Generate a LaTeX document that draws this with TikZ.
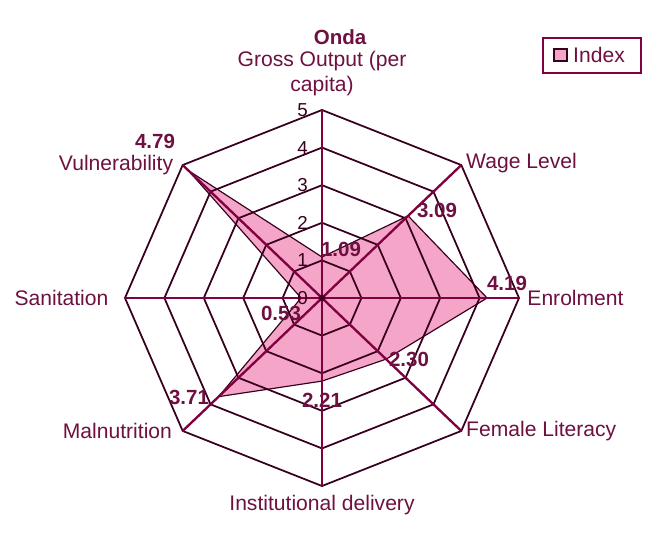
\documentclass[tikz,border=0pt]{standalone}
\usepackage{fontspec}
\setmainfont{Liberation Sans}
\usetikzlibrary{positioning}
\definecolor{plum}{RGB}{110,16,64}
\definecolor{axisred}{RGB}{128,0,64}
\definecolor{ringdark}{RGB}{55,0,30}
\definecolor{indexpink}{RGB}{245,166,200}
\tikzset{
  ring/.style={draw=ringdark, line width=1.5pt, line join=miter},
  spoke/.style={draw=axisred, line width=2pt},
  axislabel/.style={text=plum, font=\fontsize{18}{21}\selectfont, inner sep=0pt},
  valuelabel/.style={text=plum, font=\bfseries\fontsize{17.5}{21}\selectfont, inner sep=0pt},
  ticklabel/.style={text=ringdark, font=\fontsize{16}{19}\selectfont, inner sep=0pt},
}
\begin{document}
\begin{tikzpicture}[x=0.03cm, y=-0.03cm]
\useasboundingbox (0,0) rectangle (659,537);

% Title
\node[valuelabel] (title) at (340,37) {Onda};

\begin{scope}[shift={(322,298)}, x=1.182cm, y=1.128cm]
% Data points
\coordinate (gross) at (90:1.09);
\coordinate (wage) at (45:3.09);
\coordinate (enrol) at (0:4.19);
\coordinate (female) at (-45:2.30);
\coordinate (delivery) at (-90:2.21);
\coordinate (malnut) at (-135:3.71);
\coordinate (sanit) at (180:0.53);
\coordinate (vulner) at (135:4.79);

% Index area
\fill[indexpink] (gross) -- (wage) -- (enrol) -- (female) -- (delivery)
  -- (malnut) -- (sanit) -- (vulner) -- cycle;

% Rings
\foreach \r in {1,...,5}
  \draw[ring] (90:\r) -- (45:\r) -- (0:\r) -- (-45:\r) -- (-90:\r)
    -- (-135:\r) -- (180:\r) -- (135:\r) -- cycle;

% Index outline
\draw[ringdark, line width=1pt, line join=miter] (gross) -- (wage) -- (enrol)
  -- (female) -- (delivery) -- (malnut) -- (sanit) -- (vulner) -- cycle;

% Spokes
\foreach \a in {0,45,...,315}
  \draw[spoke] (0,0) -- (\a:5);
\fill[ringdark] (0,0) circle (2.5pt);

% Scale
\foreach \r in {0,...,5}
  \node[ticklabel, left=12pt] at (90:\r) {\r};

% Axis labels
\node[axislabel, above=12pt, align=center] at (90:5) {Gross Output (per\\capita)};
\node[axislabel, right=4pt, yshift=2pt] at (45:5) {Wage Level};
\node[axislabel, right=7pt] at (0:5) {Enrolment};
\node[axislabel, right=4pt] at (-45:5) {Female Literacy};
\node[axislabel, below=8pt] at (-90:5) {Institutional delivery};
\node[axislabel, left=9pt] at (-135:5) {Malnutrition};
\node[axislabel, left=14pt] at (180:5) {Sanitation};
\node[axislabel, left=8pt] at (135:5) {Vulnerability};
\end{scope}

% Value labels
\node[valuelabel] at (341,249) {1.09};
\node[valuelabel] at (437,210) {3.09};
\node[valuelabel] at (507,283) {4.19};
\node[valuelabel] at (409,359) {2.30};
\node[valuelabel] at (322,400) {2.21};
\node[valuelabel] at (189,397) {3.71};
\node[valuelabel] at (281,313) {0.53};
\node[valuelabel] at (155,141) {4.79};

% Legend
\draw[axisred, line width=2pt] (543,38) rectangle (641,73);
\draw[ringdark, fill=indexpink, line width=1.2pt] (554,49) rectangle (567,61);
\node[axislabel, anchor=west] (legend) at (573,55) {Index};

\end{tikzpicture}
\end{document}
